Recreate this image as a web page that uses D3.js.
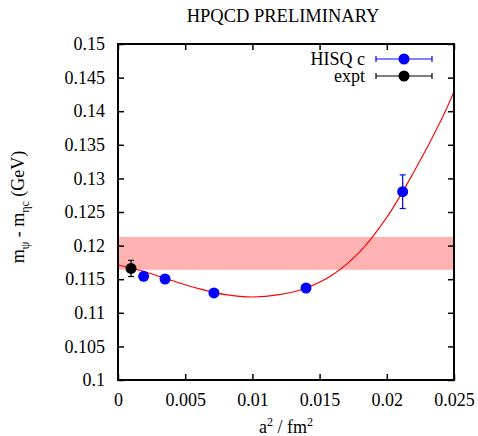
<!DOCTYPE html>
<html>
<head>
<meta charset="utf-8">
<script src="https://cdn.jsdelivr.net/npm/d3@7"></script>
<style>
body { margin: 0; background: #fff; }
text { font-family: "Liberation Serif", "DejaVu Serif", serif; fill: #000; }
</style>
</head>
<body>
<main></main>
<script>
// lattice points, a^2 in fm^2
var hisqA2 = [0.00191, 0.0035, 0.00714, 0.01399, 0.02118];
var hisqVal = [0.11543, 0.11503, 0.11295, 0.11369, 0.12802];
var hisqErr = [0.0003, 0.0003, 0.0003, 0.0003, 0.0025];

var exptA2 = [0.00097];
var exptVal = [0.1166];
var exptErr = [0.0012];

// fit curve
var fitA2 = [0, 0.002, 0.004, 0.006, 0.008, 0.010, 0.012, 0.014, 0.016, 0.018, 0.020, 0.022, 0.024, 0.025];
var fitVal = [0.1171, 0.1161, 0.1148, 0.1136, 0.1127, 0.11235, 0.1127, 0.1137, 0.1157, 0.1191, 0.1242, 0.1309, 0.1385, 0.1429];

var band = [0.1164, 0.1213];

var xTicks = [0, 0.005, 0.01, 0.015, 0.02, 0.025];
var yTicks = [0.1, 0.105, 0.11, 0.115, 0.12, 0.125, 0.13, 0.135, 0.14, 0.145, 0.15];

var width = 478, height = 436;
var mLeft = 118, mRight = 454, mTop = 44, mBottom = 380;
var fs = "18px";

var svg = d3.select("main").append("svg")
    .attr("width", width)
    .attr("height", height);

var x = d3.scaleLinear().domain([0, 0.025]).range([mLeft, mRight]);
var y = d3.scaleLinear().domain([0.1, 0.15]).range([mBottom, mTop]);

var fmt = d => String(+d.toFixed(3));

// band
svg.append("rect")
    .attr("x", x(0))
    .attr("y", y(band[1]))
    .attr("width", x(0.025) - x(0))
    .attr("height", y(band[0]) - y(band[1]))
    .style("fill", "#ffb2b2");

// axes with inner ticks
function styleAxis(g) {
    g.select(".domain").remove();
    g.selectAll(".tick line").attr("stroke", "#000").attr("stroke-width", 1.5);
    g.selectAll(".tick text").style("font-size", fs).attr("font-family", "Liberation Serif, serif");
}

svg.append("g")
    .attr("transform", "translate(0," + mBottom + ")")
    .call(d3.axisBottom(x).tickValues(xTicks).tickFormat(fmt).tickSizeInner(-6).tickPadding(13))
    .call(styleAxis);
svg.append("g")
    .attr("transform", "translate(0," + mTop + ")")
    .call(d3.axisTop(x).tickValues(xTicks).tickFormat("").tickSizeInner(-6))
    .call(styleAxis);
svg.append("g")
    .attr("transform", "translate(" + mLeft + ",0)")
    .call(d3.axisLeft(y).tickValues(yTicks).tickFormat(fmt).tickSizeInner(-6).tickPadding(13))
    .call(styleAxis);
svg.append("g")
    .attr("transform", "translate(" + mRight + ",0)")
    .call(d3.axisRight(y).tickValues(yTicks).tickFormat("").tickSizeInner(-6))
    .call(styleAxis);

// fit line
var line = d3.line()
    .x((d, i) => x(fitA2[i]))
    .y(d => y(d))
    .curve(d3.curveCatmullRom);
svg.append("path")
    .attr("d", line(fitVal))
    .style("fill", "none")
    .style("stroke", "#ff0000")
    .style("stroke-width", 1.1);

// error bars + points
function drawPoints(xs, vals, errs, color) {
    var g = svg.append("g");
    xs.forEach((a, i) => {
        var cx = x(a);
        g.append("line").attr("x1", cx).attr("x2", cx)
            .attr("y1", y(vals[i] - errs[i])).attr("y2", y(vals[i] + errs[i]))
            .style("stroke", color).style("stroke-width", 1.2);
        [vals[i] - errs[i], vals[i] + errs[i]].forEach(v => {
            g.append("line").attr("x1", cx - 3).attr("x2", cx + 3)
                .attr("y1", y(v)).attr("y2", y(v))
                .style("stroke", color).style("stroke-width", 1.2);
        });
        g.append("circle").attr("cx", cx).attr("cy", y(vals[i])).attr("r", 5.5)
            .style("fill", color);
    });
}
drawPoints(hisqA2, hisqVal, hisqErr, "#0000ff");
drawPoints(exptA2, exptVal, exptErr, "#000000");

// frame
svg.append("rect")
    .attr("x", mLeft).attr("y", mTop)
    .attr("width", mRight - mLeft).attr("height", mBottom - mTop)
    .style("fill", "none").style("stroke", "#000").style("stroke-width", 2);

// legend
var legend = [["HISQ c", "#0000ff"], ["expt", "#000000"]];
legend.forEach((d, i) => {
    var ly = 59 + i * 17;
    svg.append("text").attr("x", 365).attr("y", ly + 6)
        .attr("text-anchor", "end").style("font-size", fs).text(d[0]);
    svg.append("line").attr("x1", 376).attr("x2", 432).attr("y1", ly).attr("y2", ly)
        .style("stroke", d[1]).style("stroke-width", 1.2);
    [376, 432].forEach(cx => {
        svg.append("line").attr("x1", cx).attr("x2", cx).attr("y1", ly - 3).attr("y2", ly + 3)
            .style("stroke", d[1]).style("stroke-width", 1.2);
    });
    svg.append("circle").attr("cx", 404).attr("cy", ly).attr("r", 5.5).style("fill", d[1]);
});

// title and axis labels
svg.append("text").attr("x", 283).attr("y", 22).attr("text-anchor", "middle")
    .style("font-size", "18.5px").text("HPQCD PRELIMINARY");

var xl = svg.append("text").attr("x", 286).attr("y", 433).attr("text-anchor", "middle")
    .style("font-size", fs);
xl.append("tspan").text("a");
xl.append("tspan").attr("dy", -7).style("font-size", "12px").text("2");
xl.append("tspan").attr("dy", 7).text(" / fm");
xl.append("tspan").attr("dy", -7).style("font-size", "12px").text("2");

var yl = svg.append("text").attr("transform", "translate(24,207) rotate(-90)")
    .attr("text-anchor", "middle").style("font-size", fs);
yl.append("tspan").text("m");
yl.append("tspan").attr("dy", 5).style("font-size", "12px").text("ψ");
yl.append("tspan").attr("dy", -5).text(" - m");
yl.append("tspan").attr("dy", 5).style("font-size", "12px").text("ηc");
yl.append("tspan").attr("dy", -5).text("  (GeV)");
</script>
</body>
</html>
